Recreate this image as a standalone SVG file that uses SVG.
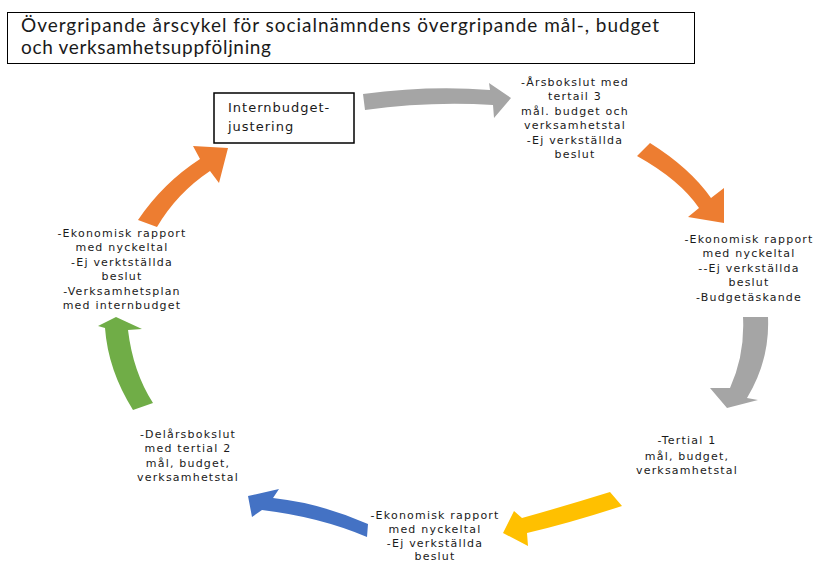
<svg xmlns="http://www.w3.org/2000/svg" width="816" height="563" viewBox="0 0 816 563">
<style>
.box{fill:#fff;stroke:#000;stroke-width:1}
.t{font-family:"DejaVu Sans",Verdana,sans-serif;font-size:11px;letter-spacing:1.2px;fill:#1a1a1a;text-anchor:middle}
.title{font-family:Lato,"Liberation Sans",sans-serif;font-size:19px;fill:#1a1a1a}
.ib{font-family:"DejaVu Sans",Verdana,sans-serif;font-size:13px;letter-spacing:1px;fill:#1a1a1a}
</style>
<rect width="816" height="563" fill="#fff"/>
<g id="title">
<rect class="box" x="7.5" y="12.5" width="687" height="51"/>
<text class="title" x="21" y="32" textLength="638" lengthAdjust="spacing">Övergripande årscykel för socialnämndens övergripande mål-, budget</text>
<text class="title" x="21" y="54" textLength="250" lengthAdjust="spacing">och verksamhetsuppföljning</text>
</g>
<g id="connectors">
<path fill="#A5A5A5" d="M363,94 Q430,85 490,90 L489,83 L511,98 L494,118 L493,105 Q430,101 365,110 Z"/>
<path fill="#ED7D31" d="M650,143 Q690,168 711,198 L724,188 L724,223 L688,217 L699,208 Q680,180 637,156 Z"/>
<path fill="#A5A5A5" d="M743,317 Q745,355 730,388 L710,388 L727,408 L758,400 L747,398 Q770,360 768,317 Z"/>
<path fill="#FFC000" d="M610,492 Q565,506 522,518 L514,511 L503,533 L528,546 L527,533 Q570,523 622,506 Z"/>
<path fill="#4472C4" d="M368,524 Q320,503 273,498 L279,489 L248,496 L252,517 L262,510 Q320,517 367,537 Z"/>
<path fill="#70AD47" d="M133,410 Q108,370 105,328 L98,326 L116,317 L142,329 L128,330 Q133,372 153,403 Z"/>
<path fill="#ED7D31" d="M138,220 Q163,183 200,159 L193,146 L228,148 L219,183 L210,171 Q177,193 157,227 Z"/>
</g>
<g id="internbudget">
<rect x="214" y="93" width="140" height="50" fill="#fff" stroke="#000" stroke-width="1.5"/>
<text class="ib" x="228" y="112">Internbudget-</text>
<text class="ib" x="228" y="131">justering</text>
</g>
<g id="arsbokslut">
<text class="t" x="575" y="86">-Årsbokslut med</text>
<text class="t" x="575" y="99.5">tertail 3</text>
<text class="t" x="575" y="115">mål. budget och</text>
<text class="t" x="575" y="128.5">verksamhetstal</text>
<text class="t" x="575" y="144">-Ej verkställda</text>
<text class="t" x="575" y="157.5">beslut</text>
</g>
<g id="ekonomisk-right">
<text class="t" x="749" y="243">-Ekonomisk rapport</text>
<text class="t" x="749" y="256.5">med nyckeltal</text>
<text class="t" x="749" y="272">--Ej verkställda</text>
<text class="t" x="749" y="285.5">beslut</text>
<text class="t" x="749" y="301">-Budgetäskande</text>
</g>
<g id="tertial1">
<text class="t" x="687" y="444">-Tertial 1</text>
<text class="t" x="687" y="460">mål, budget,</text>
<text class="t" x="687" y="473.5">verksamhetstal</text>
</g>
<g id="ekonomisk-bottom">
<text class="t" x="435" y="519">-Ekonomisk rapport</text>
<text class="t" x="435" y="532.5">med nyckeltal</text>
<text class="t" x="435" y="547">-Ej verkställda</text>
<text class="t" x="435" y="560">beslut</text>
</g>
<g id="delarsbokslut">
<text class="t" x="188" y="438">-Delårsbokslut</text>
<text class="t" x="188" y="451.5">med tertial 2</text>
<text class="t" x="188" y="467">mål, budget,</text>
<text class="t" x="188" y="480.5">verksamhetstal</text>
</g>
<g id="ekonomisk-left">
<text class="t" x="122" y="237">-Ekonomisk rapport</text>
<text class="t" x="122" y="250.5">med nyckeltal</text>
<text class="t" x="122" y="266">-Ej verktställda</text>
<text class="t" x="122" y="279.5">beslut</text>
<text class="t" x="122" y="295">-Verksamhetsplan</text>
<text class="t" x="122" y="308.5">med internbudget</text>
</g>
</svg>
